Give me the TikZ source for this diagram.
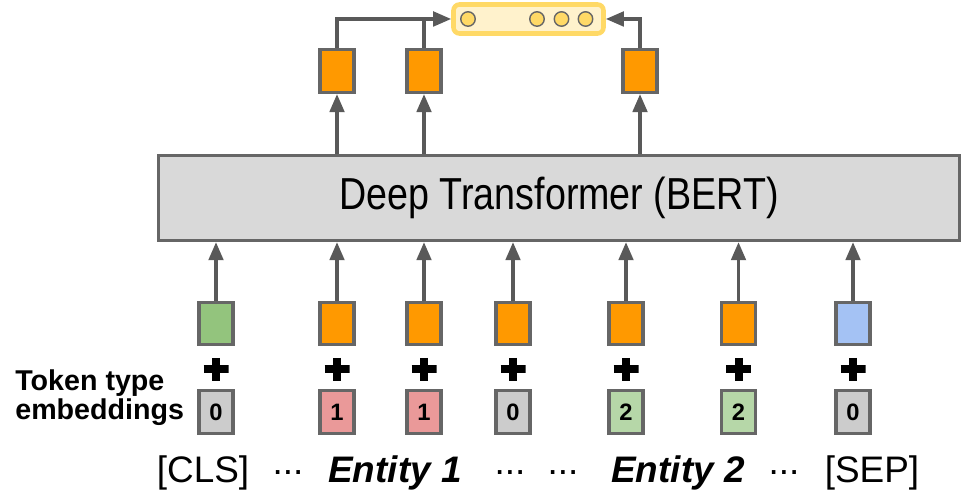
\documentclass[tikz,border=0pt]{standalone}
\usepackage{xcolor}
\usepackage{fontspec}
\setmainfont{Liberation Sans}
\newfontfamily\narrowfont[FakeStretch=0.84]{Liberation Sans}
\usepackage{tikz}
\usetikzlibrary{arrows.meta, positioning}
\definecolor{boxgray}{HTML}{666666}
\definecolor{arrowgray}{HTML}{595959}
\definecolor{tokorange}{HTML}{FF9900}
\definecolor{clsgreen}{HTML}{93C47D}
\definecolor{sepblue}{HTML}{A4C2F4}
\definecolor{typegray}{HTML}{CCCCCC}
\definecolor{typered}{HTML}{EA9999}
\definecolor{typegreen}{HTML}{B6D7A8}
\definecolor{bertgray}{HTML}{D9D9D9}
\definecolor{outyellow}{HTML}{FFD966}
\definecolor{outfill}{HTML}{FFF2CC}

\begin{document}
\begin{tikzpicture}[
    emb/.style={rectangle, draw=boxgray, line width=1.8pt, fill=tokorange, minimum width=0.68cm, minimum height=0.84cm, inner sep=0pt},
    typ/.style={emb, fill=typegray, minimum height=0.86cm, font=\fontsize{13.5}{14}\selectfont\bfseries},
    plussign/.style={minimum width=0.5cm, minimum height=0.46cm, inner sep=0pt,
        path picture={\draw[line width=0.16cm] (path picture bounding box.north) -- (path picture bounding box.south)
            (path picture bounding box.west) -- (path picture bounding box.east);}},
    circ/.style={circle, draw=boxgray, fill=outyellow, line width=0.8pt, minimum size=0.29cm, inner sep=0pt},
    lab/.style={font=\fontsize{21}{25}\selectfont},
    link/.style={line width=1.9pt, color=arrowgray},
    edge/.style={link, -{Triangle[length=0.36cm, width=0.29cm]}}
]
\useasboundingbox (0,0) rectangle (19.38,10);

% transformer
\node[draw=boxgray, fill=bertgray, line width=1.9pt, minimum width=16.02cm, minimum height=1.7cm,
    font=\narrowfont\fontsize{25.5}{30}\selectfont] (bert) at (11.18,6.04) {Deep Transformer (BERT)};

% output vector
\node[draw=outyellow, fill=outfill, line width=2.6pt, rounded corners=0.12cm, minimum width=3.0cm, minimum height=0.58cm] (out) at (10.57,9.62) {};
\node[circ] (c1) at (9.36,9.62) {};
\node[circ] (c2) at (10.74,9.62) {};
\node[circ] (c3) at (11.23,9.62) {};
\node[circ] (c4) at (11.71,9.62) {};

% outputs
\node[emb, minimum height=0.86cm] (o1) at (6.74,8.58) {};
\node[emb, minimum height=0.86cm] (o2) at (8.48,8.58) {};
\node[emb, minimum height=0.86cm] (o3) at (12.8,8.58) {};

% token embeddings
\node[emb, fill=clsgreen] (e1) at (4.32,3.53) {};
\node[emb] (e2) at (6.74,3.53) {};
\node[emb] (e3) at (8.48,3.53) {};
\node[emb] (e4) at (10.26,3.53) {};
\node[emb] (e5) at (12.52,3.53) {};
\node[emb] (e6) at (14.77,3.53) {};
\node[emb, fill=sepblue] (e7) at (17.06,3.53) {};

\node[plussign] (p1) at (4.32,2.61) {};
\node[plussign] (p2) at (6.74,2.61) {};
\node[plussign] (p3) at (8.48,2.61) {};
\node[plussign] (p4) at (10.26,2.61) {};
\node[plussign] (p5) at (12.52,2.61) {};
\node[plussign] (p6) at (14.77,2.61) {};
\node[plussign] (p7) at (17.06,2.61) {};

% token type embeddings
\node[typ] (t1) at (4.32,1.76) {0};
\node[typ, fill=typered] (t2) at (6.74,1.76) {1};
\node[typ, fill=typered] (t3) at (8.48,1.76) {1};
\node[typ] (t4) at (10.26,1.76) {0};
\node[typ, fill=typegreen] (t5) at (12.52,1.76) {2};
\node[typ, fill=typegreen] (t6) at (14.77,1.76) {2};
\node[typ] (t7) at (17.06,1.76) {0};
\node[font=\fontsize{16.3}{0.58cm}\selectfont\bfseries, align=left, anchor=west, inner sep=0pt] (ttl) at (0.3,2.05) {Token type\\embeddings};

% input tokens
\node[lab] (l1) at (4.06,0.54) {[CLS]};
\node[lab] (l2) at (5.76,0.54) {...};
\node[lab] (l3) at (7.9,0.54) {\textbf{\textit{Entity 1}}};
\node[lab] (l4) at (10.2,0.54) {...};
\node[lab] (l5) at (11.26,0.54) {...};
\node[lab] (l6) at (13.56,0.54) {\textbf{\textit{Entity 2}}};
\node[lab] (l7) at (15.68,0.54) {...};
\node[lab] (l8) at (17.44,0.54) {[SEP]};

\draw[edge] (e1.north) -- (e1.north |- bert.south);
\draw[edge] (e2.north) -- (e2.north |- bert.south);
\draw[edge] (e3.north) -- (e3.north |- bert.south);
\draw[edge] (e4.north) -- (e4.north |- bert.south);
\draw[edge] (e5.north) -- (e5.north |- bert.south);
\draw[edge] (e6.north) -- (e6.north |- bert.south);
\draw[edge] (e7.north) -- (e7.north |- bert.south);
\draw[edge] (bert.north -| o1) -- (o1.south);
\draw[edge] (bert.north -| o2) -- (o2.south);
\draw[edge] (bert.north -| o3) -- (o3.south);
\draw[edge] (o1.north) |- (out.west);
\draw[link] (o2.north) -- (o2.north |- out.west);
\draw[edge] (o3.north) |- (out.east);
\end{tikzpicture}
\end{document}
